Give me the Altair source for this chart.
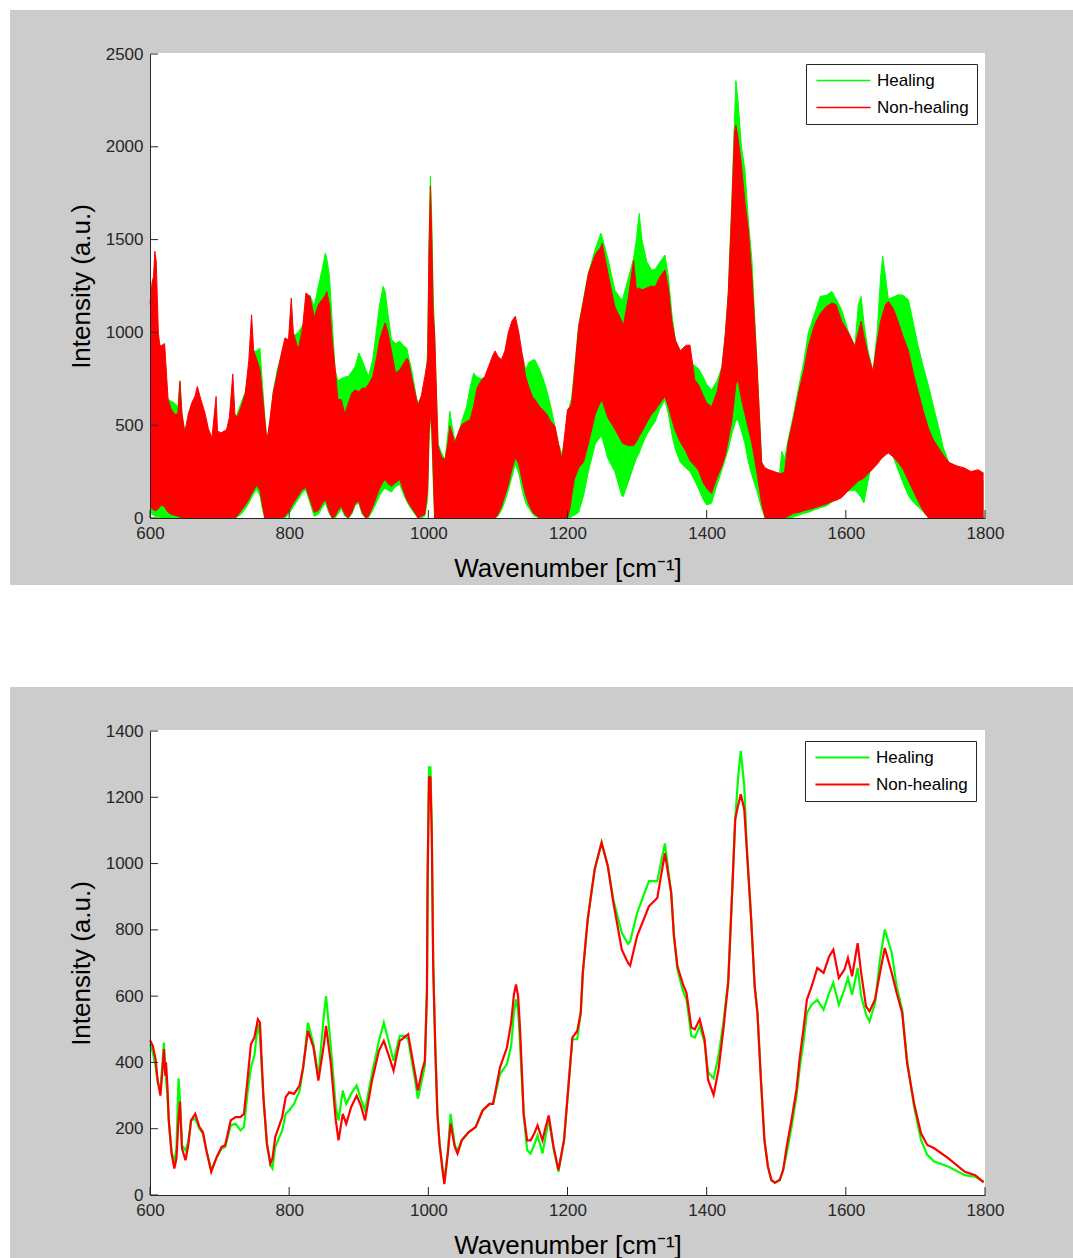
import altair as alt
import pandas as pd

FONT = "Liberation Sans"
AXIS_COLOR = "#262626"
GREY = "#cccccc"

series_names = ["Healing", "Non-healing"]
series_colors = ["#00ff00", "#ff0000"]

x_ticks = [600, 800, 1000, 1200, 1400, 1600, 1800]
top_y_ticks = [0, 500, 1000, 1500, 2000, 2500]
bottom_y_ticks = [0, 200, 400, 600, 800, 1000, 1200, 1400]

# ---------------- top panel: envelope of all individual spectra ----------------
top_wn = [600, 603, 605, 607, 609, 612, 614, 617, 621, 624,
          626, 630, 635, 640, 643, 646, 650, 655, 660, 665,
          668, 673, 679, 684, 689, 695, 697, 702, 710, 714,
          719, 722, 725, 731, 737, 742, 746, 749, 753, 758,
          762, 765, 768, 772, 777, 783, 789, 794, 799, 803,
          806, 813, 818, 820, 824, 830, 836, 842, 848, 852,
          854, 858, 862, 866, 870, 875, 880, 885, 890, 895,
          900, 905, 910, 914, 920, 925, 930, 935, 938, 942,
          947, 953, 959, 964, 969, 971, 976, 983, 985, 990,
          995, 999, 1001, 1003, 1005, 1007, 1009, 1014, 1019, 1024,
          1028, 1031, 1034, 1038, 1043, 1048, 1055, 1060, 1065, 1070,
          1076, 1081, 1087, 1093, 1096, 1100, 1105, 1110, 1115, 1120,
          1125, 1130, 1135, 1140, 1145, 1150, 1153, 1160, 1165, 1170,
          1176, 1182, 1187, 1192, 1196, 1200, 1204, 1206, 1210, 1216,
          1223, 1230, 1240, 1248, 1250, 1258, 1268, 1278, 1280, 1288,
          1295, 1299, 1303, 1307, 1314, 1321, 1326, 1333, 1340, 1345,
          1350, 1355, 1362, 1370, 1376, 1383, 1388, 1395, 1400, 1407,
          1415, 1422, 1427, 1431, 1436, 1440, 1442, 1445, 1450, 1455,
          1460, 1465, 1472, 1479, 1484, 1490, 1497, 1505, 1508, 1512,
          1517, 1525, 1532, 1540, 1546, 1555, 1563, 1572, 1580, 1586,
          1594, 1604, 1613, 1618, 1622, 1626, 1632, 1639, 1645, 1650,
          1653, 1657, 1661, 1668, 1675, 1682, 1690, 1697, 1704, 1711,
          1719, 1726, 1733, 1740, 1748, 1760, 1770, 1780, 1790, 1798]

top_heal_hi = [1150, 1150, 1100, 1000, 950, 900, 870, 820, 700, 660,
               640, 630, 620, 600, 740, 560, 470, 540, 600, 620,
               680, 600, 540, 460, 420, 420, 420, 430, 460, 470,
               500, 520, 560, 620, 680, 800, 880, 900, 900, 916,
               700, 550, 420, 500, 680, 800, 880, 950, 950, 980,
               980, 1000, 1030, 1040, 1150, 1200, 1140, 1250, 1350, 1428,
               1400, 1300, 1050, 800, 740, 750, 760, 763, 790, 817,
               889, 850, 800, 763, 850, 1000, 1150, 1248, 1220, 1100,
               961, 940, 952, 930, 916, 880, 800, 647, 620, 650,
               700, 900, 1500, 1841, 1600, 1200, 997, 400, 350, 314,
               450, 575, 500, 420, 450, 520, 600, 700, 781, 760,
               750, 760, 760, 750, 760, 740, 760, 800, 850, 900,
               950, 920, 880, 800, 840, 850, 853, 800, 750, 691,
               600, 494, 400, 340, 420, 560, 620, 650, 800, 1040,
               1180, 1320, 1450, 1534, 1510, 1400, 1228, 1175, 1190, 1300,
               1400, 1500, 1641, 1500, 1380, 1336, 1340, 1380, 1417, 1300,
               1100, 959, 900, 880, 850, 820, 806, 760, 720, 690,
               740, 815, 1000, 1210, 1700, 2150, 2356, 2250, 2000, 1875,
               1600, 1390, 851, 312, 100, 60, 200, 250, 359, 320,
               420, 560, 700, 850, 997, 1100, 1194, 1200, 1221, 1180,
               1122, 1000, 925, 1150, 1194, 1050, 900, 790, 1000, 1300,
               1410, 1300, 1180, 1190, 1203, 1200, 1176, 1050, 925, 820,
               709, 600, 494, 380, 300, 260, 240, 230, 220, 200]

top_heal_lo = [30, 20, 15, 10, 10, 5, 0, 0, 0, 0,
               0, 0, 0, 0, 0, 0, 0, 0, 0, 0,
               0, 0, 0, 0, 0, 0, 0, 0, 0, 0,
               0, 0, 5, 20, 50, 80, 110, 130, 155, 120,
               40, 0, 0, 0, 0, 0, 0, 0, 20, 40,
               60, 100, 130, 140, 150, 80, 10, 20, 60, 80,
               60, 20, 0, 0, 20, 50, 10, 0, 20, 70,
               80, 20, 0, 0, 40, 80, 120, 150, 160, 150,
               140, 170, 180, 130, 90, 75, 45, 10, 0, 0,
               10, 100, 400, 560, 450, 200, 0, 0, 0, 0,
               0, 0, 0, 0, 0, 0, 0, 0, 0, 0,
               0, 0, 0, 0, 0, 10, 40, 90, 150, 220,
               290, 240, 150, 80, 50, 20, 10, 0, 0, 0,
               0, 0, 0, 0, 0, 0, 0, 10, 15, 30,
               120, 250, 400, 440, 430, 320, 250, 120, 115, 200,
               280, 320, 350, 390, 450, 492, 520, 590, 636, 560,
               450, 370, 300, 270, 250, 200, 160, 100, 70, 80,
               180, 260, 320, 370, 450, 500, 528, 528, 470, 400,
               300, 230, 150, 50, 0, 0, 0, 0, 0, 0,
               0, 5, 15, 25, 30, 45, 55, 65, 85, 100,
               135, 145, 150, 130, 110, 81, 200, 330, 420, 450,
               458, 430, 400, 330, 260, 190, 120, 85, 60, 35,
               0, 0, 0, 0, 0, 0, 0, 0, 0, 0]

top_non_hi = [1150, 1270, 1300, 1437, 1380, 1000, 930, 930, 940, 760,
              640, 590, 560, 560, 736, 560, 458, 560, 620, 660,
              709, 640, 566, 480, 431, 655, 470, 458, 476, 540,
              776, 560, 539, 600, 673, 850, 1095, 900, 860, 800,
              650, 530, 413, 520, 673, 780, 889, 970, 960, 1185,
              1000, 907, 1000, 1051, 1212, 1194, 1080, 1150, 1180, 1200,
              1221, 1150, 950, 808, 640, 637, 560, 620, 673, 690,
              680, 700, 700, 720, 760, 850, 960, 1020, 1051, 1000,
              900, 780, 800, 830, 860, 853, 760, 640, 602, 660,
              763, 850, 1450, 1787, 1500, 1100, 997, 386, 330, 314,
              400, 494, 460, 404, 460, 503, 520, 530, 600, 700,
              740, 760, 820, 880, 900, 870, 853, 900, 1000, 1060,
              1087, 1000, 880, 760, 700, 650, 640, 600, 580, 560,
              520, 494, 400, 314, 450, 584, 600, 620, 780, 1031,
              1170, 1318, 1420, 1460, 1480, 1320, 1139, 1060, 1031, 1200,
              1390, 1230, 1240, 1228, 1240, 1250, 1246, 1300, 1336, 1240,
              1060, 959, 900, 930, 932, 744, 720, 660, 620, 600,
              680, 815, 1000, 1210, 1659, 2080, 2117, 2050, 1900, 1700,
              1550, 1300, 851, 300, 270, 259, 250, 240, 240, 250,
              404, 540, 673, 800, 925, 1040, 1100, 1140, 1158, 1150,
              1060, 997, 925, 1000, 1060, 980, 880, 790, 950, 1060,
              1100, 1150, 1167, 1130, 1060, 980, 900, 780, 680, 580,
              480, 420, 380, 340, 300, 280, 270, 250, 260, 242]

top_non_lo = [60, 50, 45, 40, 40, 50, 60, 70, 60, 40,
              30, 20, 15, 10, 5, 0, 0, 0, 0, 0,
              0, 0, 0, 0, 0, 0, 0, 0, 0, 0,
              0, 0, 10, 40, 70, 100, 130, 150, 175, 150,
              60, 0, 0, 0, 0, 0, 0, 10, 35, 60,
              80, 120, 150, 155, 165, 100, 30, 40, 80, 99,
              80, 30, 0, 10, 40, 63, 20, 0, 30, 80,
              90, 30, 0, 10, 60, 110, 160, 195, 207, 185,
              170, 190, 207, 150, 100, 85, 55, 15, 0, 10,
              20, 150, 450, 566, 480, 250, 0, 0, 0, 0,
              0, 0, 0, 0, 0, 0, 0, 0, 0, 0,
              0, 0, 0, 0, 0, 20, 60, 120, 180, 260,
              325, 290, 200, 120, 70, 30, 20, 0, 0, 0,
              0, 0, 0, 0, 0, 0, 60, 120, 210, 270,
              300, 400, 560, 630, 630, 540, 480, 410, 400, 390,
              390, 410, 440, 465, 515, 560, 580, 620, 654, 600,
              530, 470, 410, 360, 310, 280, 259, 190, 160, 133,
              220, 280, 340, 420, 520, 650, 720, 744, 640, 560,
              480, 402, 250, 80, 0, 0, 0, 0, 0, 0,
              10, 25, 30, 40, 45, 55, 65, 75, 90, 95,
              110, 150, 180, 200, 207, 215, 240, 265, 290, 315,
              325, 340, 350, 330, 300, 265, 200, 145, 90, 40,
              0, 0, 0, 0, 0, 0, 0, 0, 0, 0]

# ---------------- bottom panel: mean spectra ----------------
mean_wn = [600, 604, 608, 611, 615, 618, 620, 622, 623, 625,
           627, 631, 635, 638, 641, 643, 646, 651, 655, 659,
           665, 671, 676, 681, 688, 696, 703, 708, 716, 723,
           730, 735, 740, 745, 750, 755, 758, 763, 768, 773,
           776, 780, 790, 795, 800, 807, 815, 820, 827, 835,
           842, 850, 853, 860, 867, 871, 877, 882, 889, 897,
           903, 909, 919, 929, 936, 944, 950, 959, 965, 971,
           981, 985, 991, 995, 998, 999, 1001, 1003, 1005, 1007,
           1010, 1013, 1016, 1021, 1023, 1028, 1032, 1038, 1042, 1048,
           1058, 1068, 1078, 1088, 1093, 1103, 1113, 1119, 1123, 1126,
           1129, 1132, 1137, 1142, 1147, 1152, 1157, 1164, 1168, 1173,
           1180, 1187, 1195, 1202, 1207, 1214, 1219, 1222, 1229, 1239,
           1249, 1258, 1266, 1278, 1287, 1290, 1300, 1317, 1329, 1340,
           1349, 1353, 1358, 1366, 1371, 1378, 1383, 1390, 1397, 1402,
           1410, 1417, 1424, 1431, 1437, 1441, 1445, 1449, 1454, 1458,
           1464, 1469, 1473, 1478, 1483, 1488, 1493, 1498, 1505, 1510,
           1515, 1522, 1529, 1534, 1539, 1544, 1551, 1559, 1568, 1576,
           1582, 1590, 1598, 1603, 1609, 1617, 1622, 1629, 1634, 1642,
           1649, 1656, 1666, 1673, 1681, 1688, 1698, 1708, 1717, 1727,
           1747, 1771, 1786, 1798]

mean_heal = [455, 430, 390, 340, 320, 400, 460, 380, 350, 300,
             220, 130, 100, 140, 352, 290, 150, 135, 160, 225,
             230, 200, 185, 135, 75, 115, 140, 145, 210, 215,
             195, 205, 305, 385, 420, 515, 480, 295, 155, 90,
             80, 145, 195, 245, 255, 275, 315, 380, 520, 455,
             355, 545, 600, 445, 265, 225, 315, 275, 305, 330,
             290, 255, 365, 465, 520, 455, 405, 480, 480, 470,
             345, 290, 350, 390, 620, 980, 1290, 1290, 1110, 700,
             450, 250, 160, 70, 45, 130, 245, 150, 135, 165,
             190, 205, 255, 275, 275, 365, 395, 450, 550, 590,
             560, 445, 245, 135, 125, 150, 180, 125, 170, 230,
             140, 70, 165, 345, 470, 470, 548, 670, 831, 982,
             1063, 992, 890, 791, 758, 765, 851, 947, 947, 1061,
             912, 781, 680, 615, 590, 480, 475, 510, 460, 370,
             352, 420, 520, 650, 932, 1133, 1254, 1340, 1234, 1033,
             831, 630, 549, 347, 166, 86, 45, 37, 45, 76,
             126, 206, 297, 388, 458, 549, 575, 589, 559, 610,
             640, 574, 620, 655, 604, 685, 600, 545, 524, 579,
             710, 801, 730, 630, 559, 408, 267, 166, 121, 101,
             86, 60, 55, 40]

mean_non = [467, 450, 410, 345, 300, 380, 440, 360, 400, 330,
            225, 125, 80, 110, 230, 282, 140, 105, 150, 225,
            245, 205, 190, 135, 70, 115, 145, 150, 225, 235,
            235, 245, 345, 455, 475, 530, 520, 295, 155, 95,
            110, 175, 235, 295, 310, 305, 330, 385, 495, 445,
            345, 455, 510, 395, 225, 165, 245, 215, 265, 300,
            270, 225, 345, 435, 465, 415, 375, 465, 475, 485,
            365, 315, 375, 405, 610, 960, 1260, 1260, 1080, 690,
            440, 245, 155, 65, 33, 125, 215, 145, 125, 165,
            190, 205, 255, 275, 275, 385, 445, 520, 605, 635,
            600, 495, 245, 165, 165, 185, 210, 165, 200, 240,
            145, 75, 165, 345, 475, 495, 550, 670, 831, 982,
            1063, 992, 881, 740, 700, 692, 781, 871, 896, 1031,
            912, 781, 690, 635, 610, 505, 500, 530, 470, 348,
            302, 378, 500, 640, 932, 1133, 1174, 1209, 1164, 1033,
            831, 630, 549, 347, 166, 86, 45, 37, 45, 76,
            146, 227, 317, 418, 498, 589, 630, 685, 670, 720,
            740, 655, 680, 715, 660, 760, 670, 569, 554, 590,
            670, 745, 670, 610, 549, 398, 277, 186, 151, 141,
            111, 70, 60, 38]

assert len(top_wn) == len(top_heal_hi) == len(top_heal_lo) == len(top_non_hi) == len(top_non_lo)
assert len(mean_wn) == len(mean_heal) == len(mean_non)

n_top = len(top_wn)
top_df = pd.DataFrame({
    "wn": top_wn + top_wn,
    "series": [series_names[0]] * n_top + [series_names[1]] * n_top,
    "hi": top_heal_hi + top_non_hi,
    "lo": top_heal_lo + top_non_lo,
})
n_mean = len(mean_wn)
mean_df = pd.DataFrame({
    "wn": mean_wn + mean_wn,
    "series": [series_names[0]] * n_mean + [series_names[1]] * n_mean,
    "hi": mean_heal + mean_non,
})

W, H = 835, 464
color_scale = alt.Scale(domain=series_names, range=series_colors)


def x_enc():
    return alt.X("wn:Q", scale=alt.Scale(domain=[600, 1800], nice=False, zero=False),
                 axis=alt.Axis(values=x_ticks, format="d", title="Wavenumber [cm⁻¹]",
                               labelFlush=False, zindex=2))


def y_enc(field, ymax, ticks):
    return alt.Y(f"{field}:Q", scale=alt.Scale(domain=[0, ymax], nice=False, zero=True),
                 axis=alt.Axis(values=ticks, format="d", title="Intensity (a.u.)",
                               labelFlush=False, zindex=2))


def legend(lx, ly, sw):
    return alt.Legend(title=None, orient="none", legendX=lx, legendY=ly, direction="vertical",
                      fillColor="white", strokeColor=AXIS_COLOR, padding=8, cornerRadius=0,
                      symbolType="M-5,0H5", symbolSize=117, symbolStrokeWidth=sw,
                      symbolOffset=21, labelOffset=25, labelFont=FONT, labelFontSize=17,
                      labelColor="#000000", rowPadding=9, zindex=3)


def frame_layers(bottom_ext):
    one = alt.Data(values=[{"k": 0}])
    grey = alt.Chart(one).mark_rect(color=GREY).encode(
        x=alt.value(-140), x2=alt.value(923), y=alt.value(-44), y2=alt.value(bottom_ext))
    white = alt.Chart(one).mark_rect(color="white").encode(
        x=alt.value(0), x2=alt.value(W), y=alt.value(-1), y2=alt.value(H))
    return [grey, white]


def tick_layers(ymax, yticks):
    xt = alt.Chart(alt.Data(values=[{"wn": v} for v in x_ticks])).mark_rule(
        color=AXIS_COLOR, strokeWidth=1).encode(x=x_enc(), y=alt.value(H), y2=alt.value(H - 8))
    yt = alt.Chart(alt.Data(values=[{"hi": v} for v in yticks])).mark_rule(
        color=AXIS_COLOR, strokeWidth=1).encode(y=y_enc("hi", ymax, yticks), x=alt.value(0), x2=alt.value(8))
    return [xt, yt]


# ---- top panel ----
top_layers = frame_layers(531)
top_leg = legend(656, 10, 1.3)
for name, col in zip(series_names, series_colors):
    base = alt.Chart(top_df).transform_filter(alt.datum.series == name)
    top_layers.append(base.mark_area(color=col, opacity=1).encode(
        x=x_enc(), y=y_enc("lo", 2500, top_y_ticks), y2=alt.Y2("hi")))
    for fld in ["hi", "lo"]:
        top_layers.append(base.mark_line(strokeWidth=1).encode(
            x=x_enc(), y=y_enc(fld, 2500, top_y_ticks),
            stroke=alt.Stroke("series:N", scale=color_scale, legend=top_leg)))
top_layers += tick_layers(2500, top_y_ticks)
top = alt.layer(*top_layers).properties(width=W, height=H)

# ---- bottom panel ----
bot_layers = frame_layers(527)
bot_leg = legend(655, 10, 2.2)
for name in series_names:
    base = alt.Chart(mean_df).transform_filter(alt.datum.series == name)
    bot_layers.append(base.mark_line(strokeWidth=2.2).encode(
        x=x_enc(), y=y_enc("hi", 1400, bottom_y_ticks),
        stroke=alt.Stroke("series:N", scale=color_scale, legend=bot_leg)))
bot_layers += tick_layers(1400, bottom_y_ticks)
bottom = alt.layer(*bot_layers).properties(width=W, height=H)

chart = alt.vconcat(top, bottom, spacing=213, bounds="flush").resolve_scale(
    x="independent", y="independent", stroke="independent"
).resolve_legend(stroke="independent").properties(
    padding={"left": 10, "top": 10, "right": 0, "bottom": 0}, background="white"
).configure_view(stroke=None).configure_axis(
    domainColor=AXIS_COLOR, domainWidth=1, ticks=False, tickSize=0, grid=False,
    labelFont=FONT, labelFontSize=17, labelColor=AXIS_COLOR, labelPadding=7,
    titleFont=FONT, titleFontSize=26, titleFontWeight="normal", titleColor="#000000"
).configure_axisX(titlePadding=14).configure_axisY(titlePadding=11)

chart.save("out.html", embed_options={"renderer": "svg", "actions": False})
